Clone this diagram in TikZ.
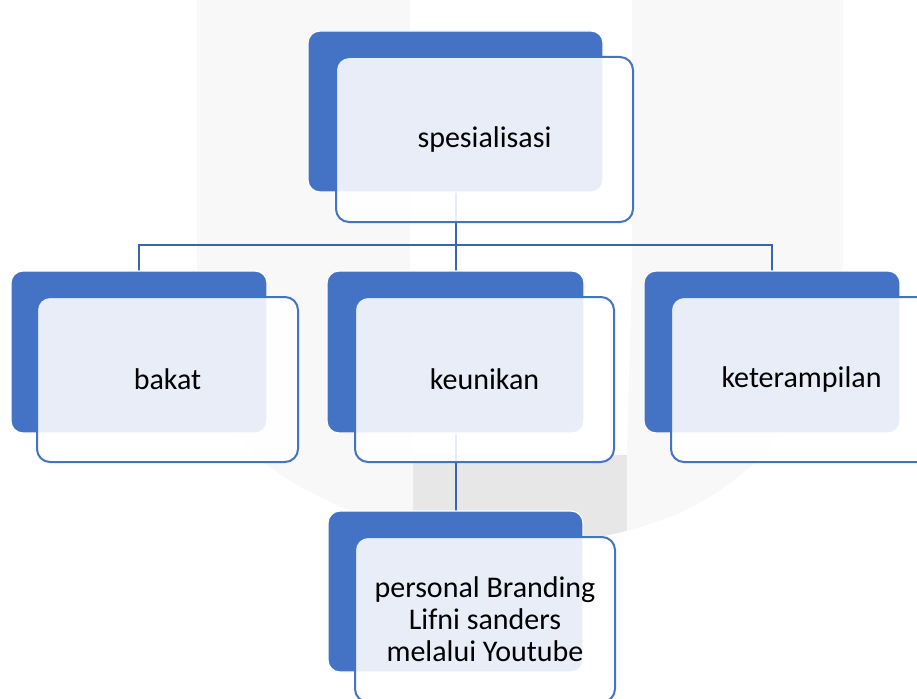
\documentclass[tikz,border=0pt]{standalone}
\usepackage{fontspec}
\setmainfont{Carlito}
\definecolor{accent}{HTML}{4472C4}
\definecolor{conn}{HTML}{3A64AD}
\definecolor{wmlight}{HTML}{F8F8F8}
\definecolor{wmdark}{HTML}{E7E7E8}
\pgfdeclarelayer{wm}
\pgfdeclarelayer{bg}
\pgfsetlayers{wm,bg,main}
\tikzset{
  backbox/.style={rectangle, rounded corners=12pt, fill=accent, draw=white, line width=1.2pt, inner sep=0pt, outer sep=0pt},
  frontbox/.style={rectangle, rounded corners=13pt, fill=white, fill opacity=0.88, text opacity=1, draw=accent, line width=2pt, align=center, inner sep=0pt, outer sep=0pt, text=black, font=\fontsize{30}{32}\selectfont},
  connector/.style={draw=conn, line width=2pt}
}
\begin{document}
\begin{tikzpicture}[x=1pt,y=-1pt]
\useasboundingbox (0,0) rectangle (917,698);
\begin{pgfonlayer}{wm}
\def\outerU{(197,0) -- (197,333) .. controls (197,440) and (300,505) .. (430,535) .. controls (520,553) and (600,545) .. (680,513) .. controls (790,460) and (843,360) .. (843,250) -- (843,0) -- cycle}
\fill[wmlight] \outerU;
\fill[white] (410,0) -- (632,0) -- (632,270) -- (627,455) -- (413,455) -- (410,270) -- cycle;
\begin{scope}
\clip \outerU;
\fill[wmdark] (413,455) rectangle (627,600);
\end{scope}
\end{pgfonlayer}
% back boxes
\node[backbox, minimum width=295pt, minimum height=161pt] (b0) at (455.5,111.5) {};
\node[backbox, minimum width=256pt, minimum height=162pt] (b1) at (139,352) {};
\node[backbox, minimum width=257pt, minimum height=162pt] (b2) at (455.5,352) {};
\node[backbox, minimum width=256pt, minimum height=162pt] (b3) at (772,352) {};
\node[backbox, minimum width=255pt, minimum height=161pt] (b4) at (455.5,591.5) {};
% front boxes
\node[frontbox, minimum width=297pt, minimum height=165pt] (f0) at (484.5,139.5) {spesialisasi};
\node[frontbox, minimum width=261pt, minimum height=165pt] (f1) at (167.5,379.5) {bakat};
\node[frontbox, minimum width=259pt, minimum height=165pt] (f2) at (484.5,379.5) {keunikan};
\node[frontbox, minimum width=261pt, minimum height=165pt] (f3) at (801.5,379.5) {keterampilan};
\node[frontbox, minimum width=260pt, minimum height=165pt] (f4) at (485,619.5) {personal Branding\\Lifni sanders\\melalui Youtube};
\coordinate (hbar) at (455.5,245);
\begin{pgfonlayer}{bg}
\draw[connector] (b0.south) -- (b2.north);
\draw[connector] (b1.north) |- (hbar) -| (b3.north);
\draw[connector] (b2.south) -- (b4.north);
\end{pgfonlayer}
\end{tikzpicture}
\end{document}
